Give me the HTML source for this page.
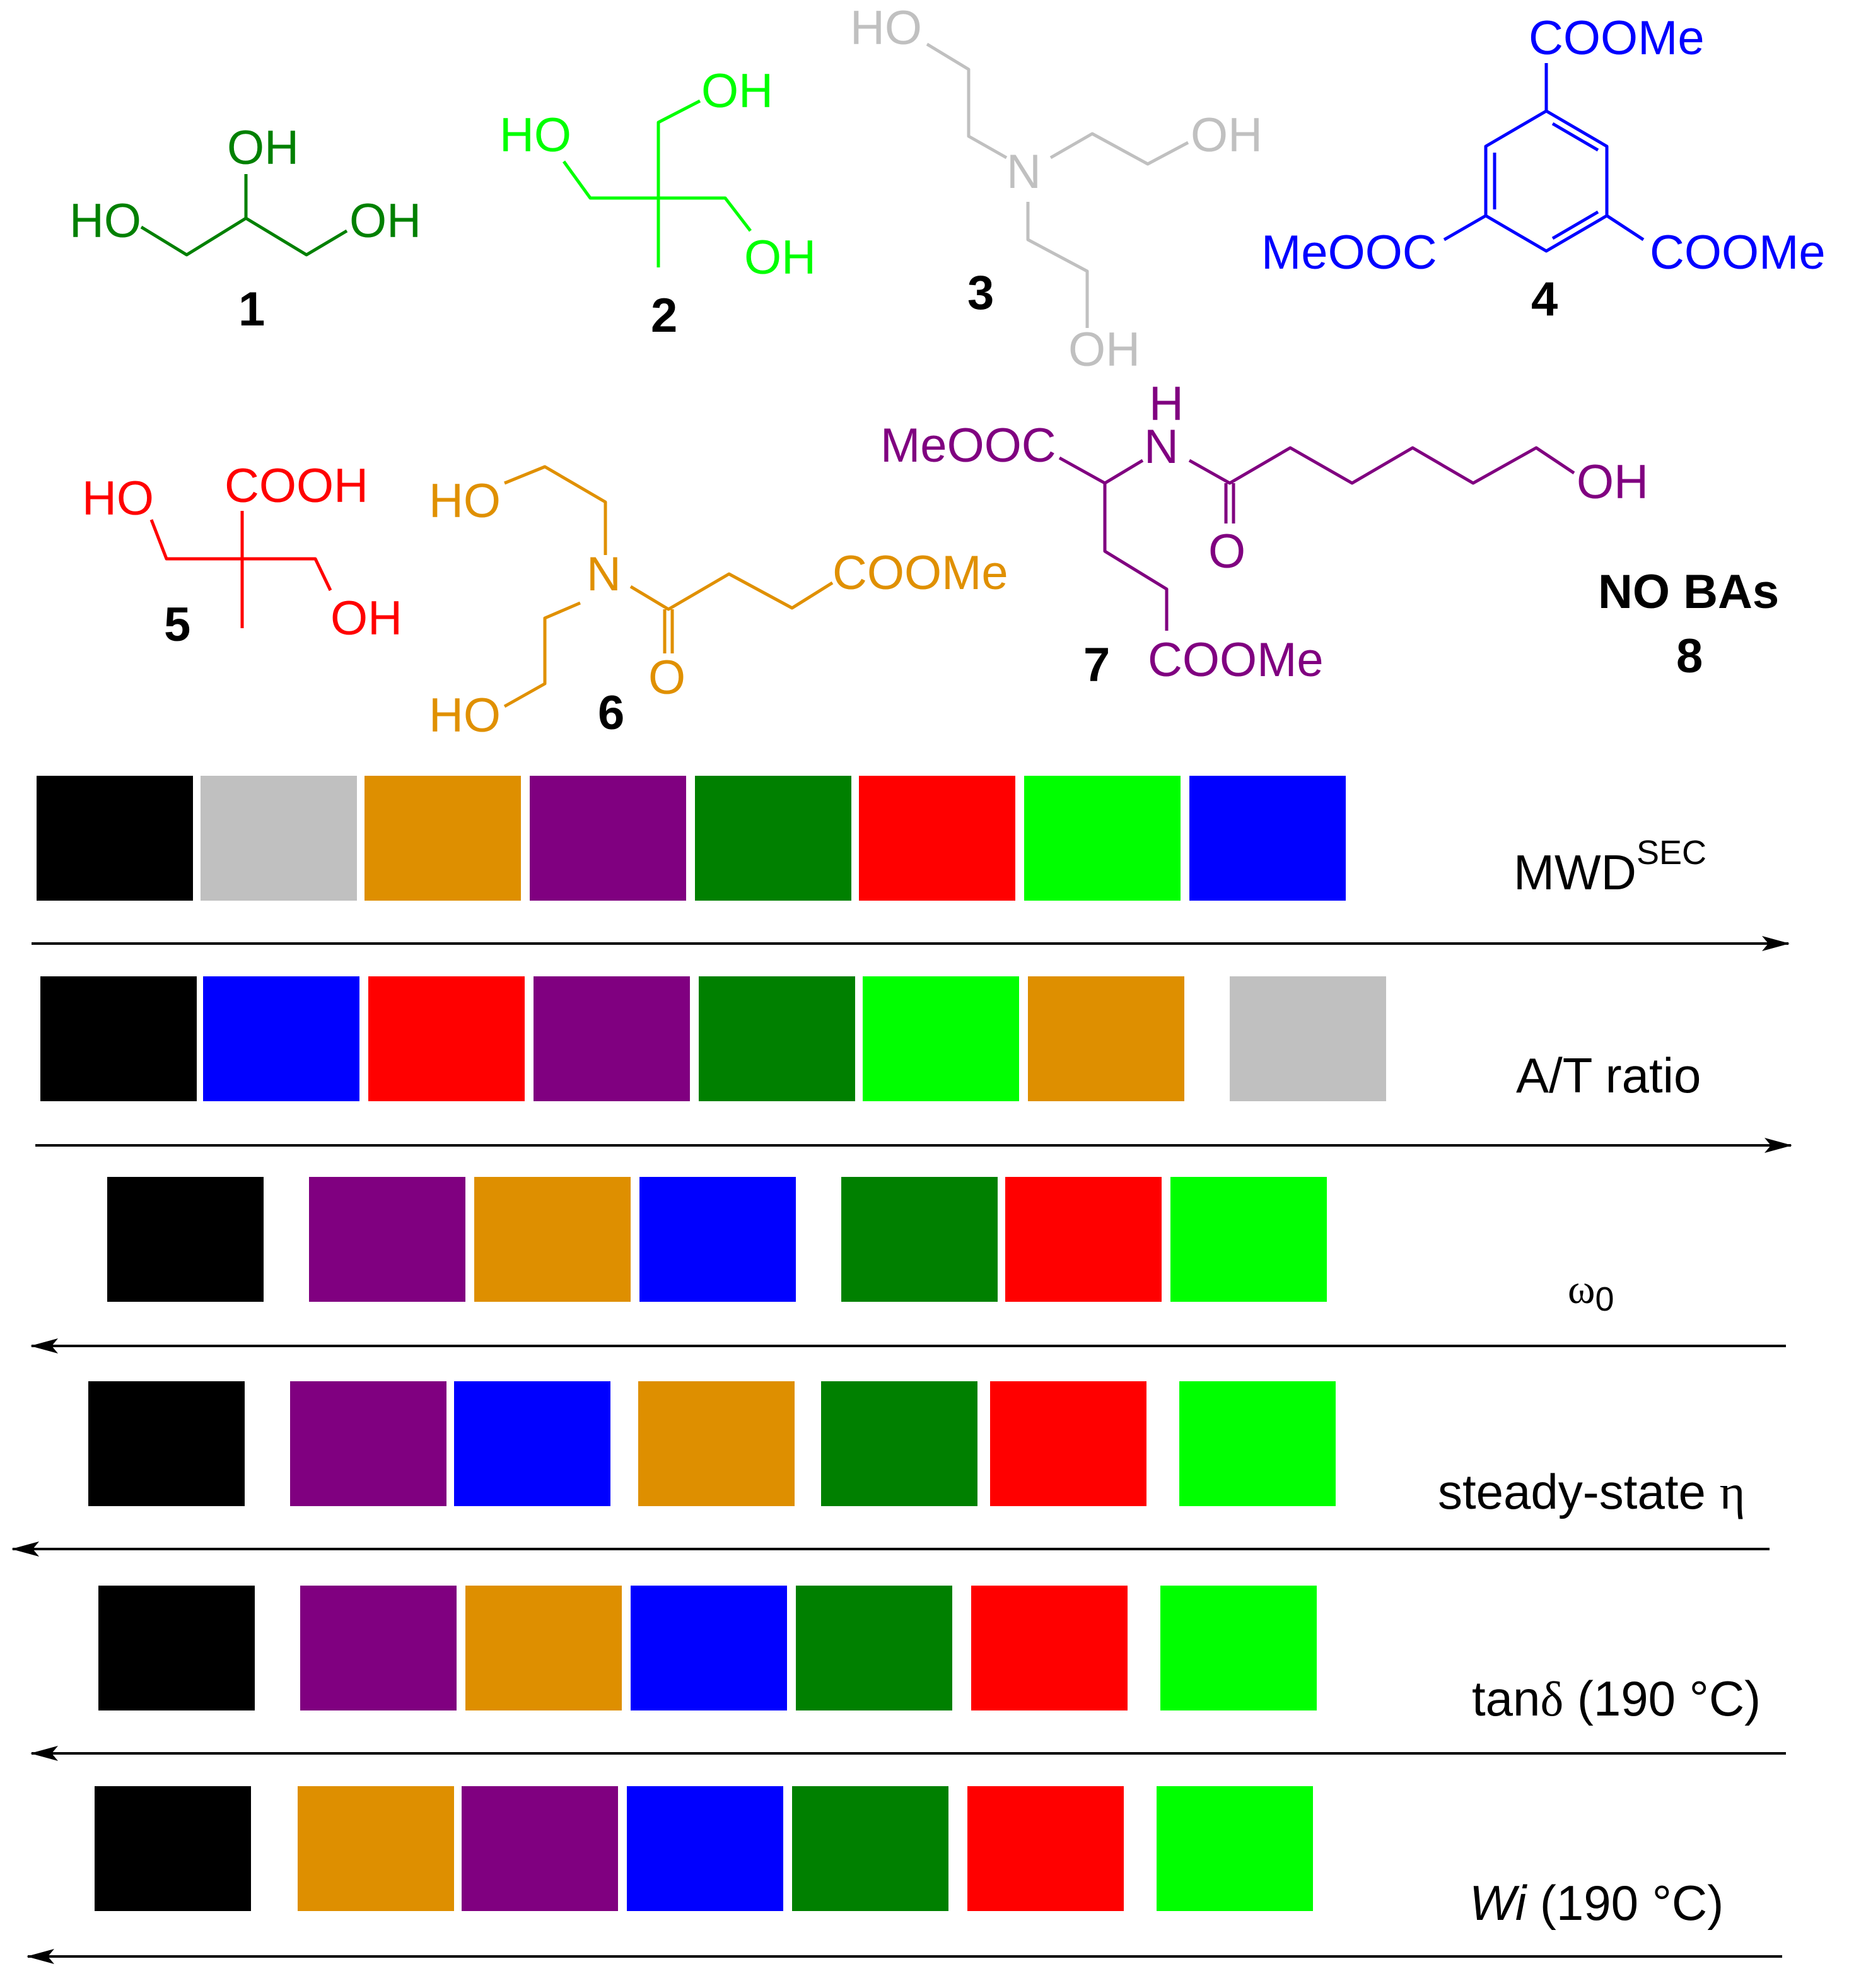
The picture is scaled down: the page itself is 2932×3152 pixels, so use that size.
<!DOCTYPE html>
<html><head><meta charset="utf-8"><style>html,body{margin:0;padding:0;background:#fff}svg{display:block}</style></head>
<body>
<svg width="2932" height="3152" viewBox="0 0 1466 1576" xmlns="http://www.w3.org/2000/svg" font-family="Liberation Sans, sans-serif">
<defs>
<marker id="ah" viewBox="0 0 22 12" refX="21" refY="6" markerWidth="22" markerHeight="12" orient="auto" markerUnits="userSpaceOnUse"><path d="M0,0 L22,6 L0,12 L5,6 z" fill="#000"/></marker>
</defs>
<g fill="none" stroke-width="2.5" stroke-linejoin="round">
<g stroke="#008000"><polyline points="112,180 148,202 195,173 243,202 275,183"/><line x1="195" y1="173" x2="195" y2="138"/></g>
<g stroke="#00ff00"><polyline points="447,128 468,157 522,157 575,157 595,183"/><polyline points="522,212 522,97 555,80"/></g>
<g stroke="#c0c0c0"><polyline points="735,35 768,55 768,108 798,125"/><polyline points="833,125 866,106 910,130 942,113"/><polyline points="815,160 815,190 862,215 862,260"/></g>
<g stroke="#0000ff"><polygon points="1226,88 1274,116 1274,171 1226,199 1178,171 1178,116"/>
<line x1="1185" y1="121" x2="1185" y2="166"/><line x1="1231" y1="98" x2="1267" y2="119"/><line x1="1231" y1="189" x2="1267" y2="168"/>
<line x1="1226" y1="88" x2="1226" y2="50"/><line x1="1178" y1="171" x2="1145" y2="190"/><line x1="1274" y1="171" x2="1303" y2="190"/></g>
<g stroke="#ff0000"><polyline points="120,412 132,443 192,443 250,443 262,468"/><line x1="192" y1="405" x2="192" y2="498"/></g>
<g stroke="#e09000"><polyline points="400,383 432,370 480,398 480,440"/><polyline points="460,478 432,490 432,542 400,560"/><polyline points="500,465 530,483 578,455 628,482 660,462"/><line x1="527" y1="483" x2="527" y2="518"/><line x1="533" y1="483" x2="533" y2="518"/></g>
<g stroke="#800080"><polyline points="840,363 876,383 906,365"/><polyline points="943,365 975,383 1023,355 1072,383 1120,355 1168,383 1218,355 1248,375"/><line x1="972" y1="383" x2="972" y2="415"/><line x1="978" y1="383" x2="978" y2="415"/><polyline points="876,383 876,437 925,467 925,500"/></g>
</g>
<g font-size="38">
<g fill="#008000"><text x="55" y="188">HO</text><text x="180" y="130">OH</text><text x="277" y="188">OH</text></g>
<g fill="#00ff00"><text x="396" y="120">HO</text><text x="556" y="85">OH</text><text x="590" y="217">OH</text></g>
<g fill="#c0c0c0"><text x="674" y="35">HO</text><text x="798" y="149">N</text><text x="944" y="120">OH</text><text x="847" y="290">OH</text></g>
<g fill="#0000ff"><text x="1212" y="43">COOMe</text><text x="1000" y="213">MeOOC</text><text x="1308" y="213">COOMe</text></g>
<g fill="#ff0000"><text x="65" y="408">HO</text><text x="178" y="398">COOH</text><text x="262" y="503">OH</text></g>
<g fill="#e09000"><text x="340" y="410">HO</text><text x="465" y="468">N</text><text x="660" y="467">COOMe</text><text x="514" y="550">O</text><text x="340" y="580">HO</text></g>
<g fill="#800080"><text x="698" y="366">MeOOC</text><text x="907" y="367">N</text><text x="911" y="333">H</text><text x="1250" y="395">OH</text><text x="958" y="450">O</text><text x="910" y="536">COOMe</text></g>
<g font-weight="bold" fill="#000"><text x="189" y="258">1</text><text x="516" y="263">2</text><text x="767" y="245">3</text><text x="1214" y="250">4</text><text x="130" y="508">5</text><text x="474" y="578">6</text><text x="859" y="540">7</text><text x="1267" y="482">NO BAs</text><text x="1329" y="533">8</text></g>
</g>
<g>
<rect x="29" y="615" width="124" height="99" fill="#000"/><rect x="159" y="615" width="124" height="99" fill="#c0c0c0"/><rect x="289" y="615" width="124" height="99" fill="#de8f00"/><rect x="420" y="615" width="124" height="99" fill="#800080"/><rect x="551" y="615" width="124" height="99" fill="#008000"/><rect x="681" y="615" width="124" height="99" fill="#ff0000"/><rect x="812" y="615" width="124" height="99" fill="#00ff00"/><rect x="943" y="615" width="124" height="99" fill="#0000ff"/>
<rect x="32" y="774" width="124" height="99" fill="#000"/><rect x="161" y="774" width="124" height="99" fill="#0000ff"/><rect x="292" y="774" width="124" height="99" fill="#ff0000"/><rect x="423" y="774" width="124" height="99" fill="#800080"/><rect x="554" y="774" width="124" height="99" fill="#008000"/><rect x="684" y="774" width="124" height="99" fill="#00ff00"/><rect x="815" y="774" width="124" height="99" fill="#de8f00"/><rect x="975" y="774" width="124" height="99" fill="#c0c0c0"/>
<rect x="85" y="933" width="124" height="99" fill="#000"/><rect x="245" y="933" width="124" height="99" fill="#800080"/><rect x="376" y="933" width="124" height="99" fill="#de8f00"/><rect x="507" y="933" width="124" height="99" fill="#0000ff"/><rect x="667" y="933" width="124" height="99" fill="#008000"/><rect x="797" y="933" width="124" height="99" fill="#ff0000"/><rect x="928" y="933" width="124" height="99" fill="#00ff00"/>
<rect x="70" y="1095" width="124" height="99" fill="#000"/><rect x="230" y="1095" width="124" height="99" fill="#800080"/><rect x="360" y="1095" width="124" height="99" fill="#0000ff"/><rect x="506" y="1095" width="124" height="99" fill="#de8f00"/><rect x="651" y="1095" width="124" height="99" fill="#008000"/><rect x="785" y="1095" width="124" height="99" fill="#ff0000"/><rect x="935" y="1095" width="124" height="99" fill="#00ff00"/>
<rect x="78" y="1257" width="124" height="99" fill="#000"/><rect x="238" y="1257" width="124" height="99" fill="#800080"/><rect x="369" y="1257" width="124" height="99" fill="#de8f00"/><rect x="500" y="1257" width="124" height="99" fill="#0000ff"/><rect x="631" y="1257" width="124" height="99" fill="#008000"/><rect x="770" y="1257" width="124" height="99" fill="#ff0000"/><rect x="920" y="1257" width="124" height="99" fill="#00ff00"/>
<rect x="75" y="1416" width="124" height="99" fill="#000"/><rect x="236" y="1416" width="124" height="99" fill="#de8f00"/><rect x="366" y="1416" width="124" height="99" fill="#800080"/><rect x="497" y="1416" width="124" height="99" fill="#0000ff"/><rect x="628" y="1416" width="124" height="99" fill="#008000"/><rect x="767" y="1416" width="124" height="99" fill="#ff0000"/><rect x="917" y="1416" width="124" height="99" fill="#00ff00"/>
</g>
<g stroke="#000" stroke-width="2" marker-end="url(#ah)">
<line x1="25" y1="748" x2="1418" y2="748"/><line x1="28" y1="908" x2="1420" y2="908"/>
<line x1="1416" y1="1067" x2="25" y2="1067"/><line x1="1403" y1="1228" x2="10" y2="1228"/>
<line x1="1416" y1="1390" x2="25" y2="1390"/><line x1="1413" y1="1551" x2="22" y2="1551"/>
</g>
<g font-size="39" fill="#000">
<text x="1200" y="705">MWD<tspan font-size="27" dy="-20">SEC</tspan></text>
<text x="1202" y="866">A/T ratio</text>
<text x="1243" y="1033" font-family="Liberation Serif, serif" font-size="33">ω<tspan font-family="Liberation Sans, sans-serif" font-size="27" dy="6">0</tspan></text>
<text x="1140" y="1196">steady-state <tspan font-family="Liberation Serif, serif">η</tspan></text>
<text x="1167" y="1360">tan<tspan font-family="Liberation Serif, serif">δ</tspan> (190 °C)</text>
<text x="1165" y="1522"><tspan font-style="italic">Wi</tspan> (190 °C)</text>
</g>
</svg>
</body></html>
